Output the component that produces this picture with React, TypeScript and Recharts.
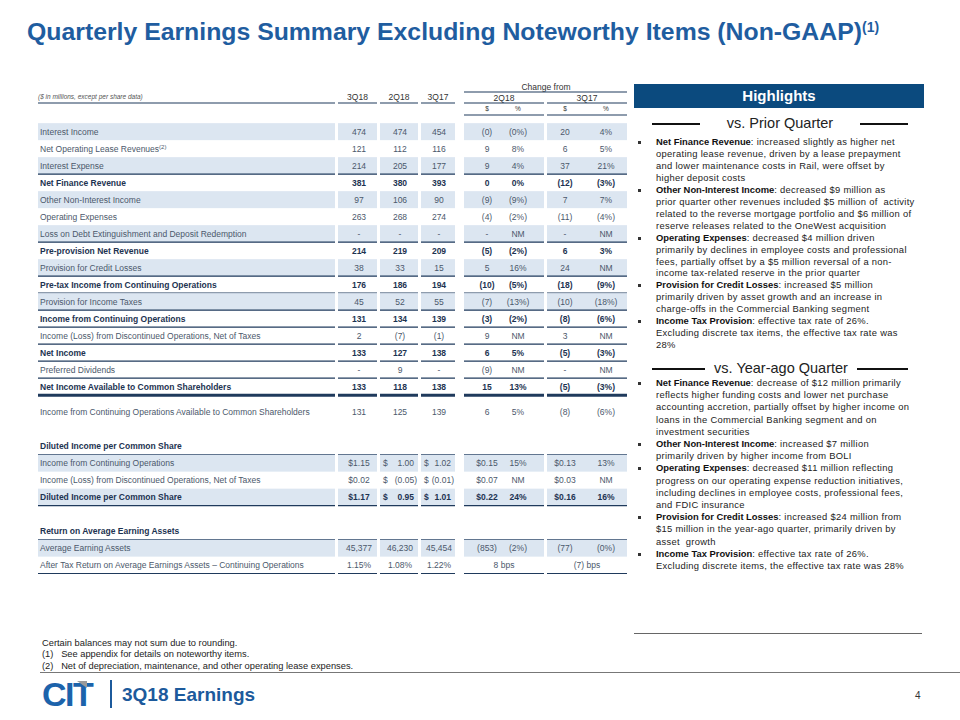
import { BarChart, Bar, XAxis, YAxis } from "recharts";

// ---- table data ($ in millions, except per share data) ----
const labels = [
  "Interest Income",
  "Net Operating Lease Revenues",
  "Interest Expense",
  "Net Finance Revenue",
  "Other Non-Interest Income",
  "Operating Expenses",
  "Loss on Debt Extinguishment and Deposit Redemption",
  "Pre-provision Net Revenue",
  "Provision for Credit Losses",
  "Pre-tax Income from Continuing Operations",
  "Provision for Income Taxes",
  "Income from Continuing Operations",
  "Income (Loss) from Discontinued Operations, Net of Taxes",
  "Net Income",
  "Preferred Dividends",
  "Net Income Available to Common Shareholders",
  "Income from Continuing Operations Available to Common Shareholders",
  "Diluted Income per Common Share",
  "Income from Continuing Operations",
  "Income (Loss) from Discontinued Operations, Net of Taxes",
  "Diluted Income per Common Share",
  "Return on Average Earning Assets",
  "Average Earning Assets",
  "After Tax Return on Average Earnings Assets \u2013 Continuing Operations",
];
const q3_18 = ["474", "121", "214", "381", "97", "263", "-", "214", "38", "176", "45", "131", "2", "133", "-", "133", "131", "", "$1.15", "$0.02", "$1.17", "", "45,377", "1.15%"];
const q2_18 = ["474", "112", "205", "380", "106", "268", "-", "219", "33", "186", "52", "134", "(7)", "127", "9", "118", "125", "", "$ 1.00", "$ (0.05)", "$ 0.95", "", "46,230", "1.08%"];
const q3_17 = ["454", "116", "177", "393", "90", "274", "-", "209", "15", "194", "55", "139", "(1)", "138", "-", "138", "139", "", "$ 1.02", "$ (0.01)", "$ 1.01", "", "45,454", "1.22%"];
const vsQtrAmt = ["(0)", "9", "9", "0", "(9)", "(4)", "-", "(5)", "5", "(10)", "(7)", "(3)", "9", "6", "(9)", "15", "6", "", "$0.15", "$0.07", "$0.22", "", "(853)", "8 bps"];
const vsQtrPct = ["(0%)", "8%", "4%", "0%", "(9%)", "(2%)", "NM", "(2%)", "16%", "(5%)", "(13%)", "(2%)", "NM", "5%", "NM", "13%", "5%", "", "15%", "NM", "24%", "", "(2%)", ""];
const vsYearAmt = ["20", "6", "37", "(12)", "7", "(11)", "-", "6", "24", "(18)", "(10)", "(8)", "3", "(5)", "-", "(5)", "(8)", "", "$0.13", "$0.03", "$0.16", "", "(77)", "(7) bps"];
const vsYearPct = ["4%", "5%", "21%", "(3%)", "7%", "(4%)", "NM", "3%", "NM", "(9%)", "(18%)", "(6%)", "NM", "(3%)", "NM", "(3%)", "(6%)", "", "13%", "NM", "16%", "", "(0%)", ""];
const labelNotes: Record<string, string> = { "Net Operating Lease Revenues": "(2)" };

// ---- highlights text ----
const vsPriorQuarter = [
  { head: "Net Finance Revenue", lines: ["increased slightly as higher net", "operating lease revenue, driven by a lease prepayment", "and lower maintenance costs in Rail, were offset by", "higher deposit costs"] },
  { head: "Other Non-Interest Income", lines: ["decreased $9 million as", "prior quarter other revenues included $5 million of  activity", "related to the reverse mortgage portfolio and $6 million of", "reserve releases related to the OneWest acquisition"] },
  { head: "Operating Expenses", lines: ["decreased $4 million driven", "primarily by declines in employee costs and professional", "fees, partially offset by a $5 million reversal of a non-", "income tax-related reserve in the prior quarter"] },
  { head: "Provision for Credit Losses", lines: ["increased $5 million", "primarily driven by asset growth and an increase in", "charge-offs in the Commercial Banking segment"] },
  { head: "Income Tax Provision", lines: ["effective tax rate of 26%.", "Excluding discrete tax items, the effective tax rate was", "28%"] },
];
const vsYearAgo = [
  { head: "Net Finance Revenue", lines: ["decrease of $12 million primarily", "reflects higher funding costs and lower net purchase", "accounting accretion, partially offset by higher income on", "loans in the Commercial Banking segment and on", "investment securities"] },
  { head: "Other Non-Interest Income", lines: ["increased $7 million", "primarily driven by higher income from BOLI"] },
  { head: "Operating Expenses", lines: ["decreased $11 million reflecting", "progress on our operating expense reduction initiatives,", "including declines in employee costs, professional fees,", "and FDIC insurance"] },
  { head: "Provision for Credit Losses", lines: ["increased $24 million from", "$15 million in the year-ago quarter, primarily driven by", "asset  growth"] },
  { head: "Income Tax Provision", lines: ["effective tax rate of 26%.", "Excluding discrete items, the effective tax rate was 28%"] },
];
const footnotes = [
  "Certain balances may not sum due to rounding.",
  "See appendix for details on noteworthy items.",
  "Net of depreciation, maintenance, and other operating lease expenses.",
];

// ---- row styling (parallel to labels) ----
type RowStyle = { shade?: boolean; bold?: boolean; rule?: number; tall?: boolean; gap?: number };
const rowStyles: RowStyle[] = [
  { shade: true },
  {},
  { shade: true, rule: 1 },
  { bold: true },
  { shade: true },
  {},
  { shade: true, rule: 1 },
  { bold: true },
  { shade: true, rule: 1 },
  { bold: true, rule: 1 },
  { shade: true, rule: 1 },
  { bold: true, rule: 1 },
  { rule: 1 },
  { bold: true, rule: 1 },
  { rule: 1 },
  { bold: true, rule: 3 },
  { tall: true },
  { bold: true, rule: 1, gap: 0.5 },
  { shade: true },
  {},
  { shade: true, bold: true, rule: 1 },
  { bold: true, rule: 1, gap: 1 },
  { shade: true },
  { rule: 1 },
];

const FONT = '"Liberation Sans", Arial, sans-serif';
const NAVY = "#1f3a5c";
const SHADE = "#dce6f1";
const ROW_H = 17;
const TABLE_LEFT = 30;
const TABLE_TOP = 123;
const TABLE_W = 600;
// column segments in page x
const SEGS: [number, number][] = [[38, 335], [338, 377], [380, 418], [421, 455], [464, 544], [547, 627]];
const VAL_X = [359, 400, 439, 487, 518, 565, 606];

function RowShape(props: any) {
  const { y, height, payload } = props;
  const st: RowStyle = payload.style;
  const cy = y + height / 2;
  const h = (st.tall ? 2 : 1) * ROW_H;
  const top = cy - h / 2;
  const lx = (px: number) => px - TABLE_LEFT;
  const weight = st.bold ? 700 : 400;
  const fill = st.bold ? "#1d3351" : "#4b586b";
  const base = cy + 3;
  const cells = [payload.a, payload.b, payload.c, payload.d, payload.e, payload.f, payload.g];
  const note = labelNotes[payload.label];

  const cellText = (v: string, i: number) => {
    if (!v) return null;
    if (i >= 1 && i <= 2 && v.startsWith("$ ")) {
      const seg = SEGS[i + 1];
      const num = v.slice(2);
      const paren = num.endsWith(")");
      return (
        <g key={i}>
          <text x={lx(seg[0] + 3)} y={base} fontSize={8.5} fill={fill} fontWeight={weight}>$</text>
          <text x={lx(seg[1] - (paren ? 1 : 4))} y={base} fontSize={8.5} fill={fill} fontWeight={weight} textAnchor="end">{num}</text>
        </g>
      );
    }
    let x = VAL_X[i];
    if ((i === 3 || i === 5) && v.includes("bps")) {
      const seg = SEGS[i === 3 ? 4 : 5];
      x = (seg[0] + seg[1]) / 2;
    }
    return (
      <text key={i} x={lx(x)} y={base} fontSize={8.5} fill={fill} fontWeight={weight} textAnchor="middle">{v}</text>
    );
  };

  return (
    <g fontFamily={FONT}>
      {st.shade && SEGS.map((s, i) => (
        <rect key={"s" + i} x={lx(s[0])} y={top} width={s[1] - s[0]} height={h} fill={SHADE} />
      ))}
      {st.rule && SEGS.map((s, i) => (
        <line key={"r" + i} x1={lx(s[0])} x2={lx(s[1])} y1={top + h} y2={top + h} stroke={NAVY} strokeWidth={st.rule === 3 ? 3 : 1.2} />
      ))}
      <text x={lx(40)} y={base} fontSize={8.5} fill={fill} fontWeight={weight}>
        {payload.label}
        {note && <tspan fontSize={6} dy={-3}>{note}</tspan>}
      </text>
      {cells.map(cellText)}
    </g>
  );
}

function TableHeader() {
  const rule = (x1: number, x2: number, y: number, k: string) => (
    <line key={k} x1={x1} x2={x2} y1={y} y2={y} stroke={NAVY} strokeWidth={1.2} />
  );
  return (
    <svg width={960} height={122} style={{ position: "absolute", left: 0, top: 0 }} fontFamily={FONT}>
      <text x={38} y={99} fontSize={6.5} fontStyle="italic" fill="#555">($ in millions, except per share data)</text>
      {SEGS.slice(0, 4).map((s, i) => rule(s[0], s[1], 103, "h" + i))}
      {["3Q18", "2Q18", "3Q17"].map((t, i) => (
        <text key={t + i} x={(SEGS[i + 1][0] + SEGS[i + 1][1]) / 2} y={100} fontSize={8.5} fill="#333" textAnchor="middle">{t}</text>
      ))}
      <text x={546} y={90} fontSize={8.5} fill="#333" textAnchor="middle">Change from</text>
      {rule(464, 627, 92, "cf")}
      <text x={504} y={101} fontSize={8.5} fill="#333" textAnchor="middle">2Q18</text>
      <text x={587} y={101} fontSize={8.5} fill="#333" textAnchor="middle">3Q17</text>
      {rule(464, 544, 103, "g1")}
      {rule(547, 627, 103, "g2")}
      {["$", "%", "$", "%"].map((t, i) => (
        <text key={"u" + i} x={VAL_X[i + 3]} y={111} fontSize={6.5} fill="#333" textAnchor="middle">{t}</text>
      ))}
      {rule(464, 544, 115, "u1")}
      {rule(547, 627, 115, "u2")}
    </svg>
  );
}

function Bullets({ items, top, lh }: { items: { head: string; lines: string[] }[]; top: number; lh: number }) {
  let n = 0;
  const out: any[] = [];
  items.forEach((it, k) => {
    it.lines.forEach((ln, j) => {
      const t = top + n * lh;
      out.push(
        <div key={k + "-" + j} style={{ position: "absolute", left: 656, top: t - 6, height: 12, lineHeight: "12px", fontSize: 9.4, color: "#222", whiteSpace: "pre", letterSpacing: 0.3 }}>
          {j === 0 ? <><b style={{ color: "#111", letterSpacing: 0 }}>{it.head}</b>: {ln}</> : ln}
        </div>
      );
      if (j === 0) out.push(<div key={"b" + k} style={{ position: "absolute", left: 638, top: t - 1, width: 3, height: 3, background: "#333" }} />);
      n++;
    });
  });
  return <>{out}</>;
}

function Divider({ text, y, l, r }: { text: string; y: number; l: [number, number]; r: [number, number] }) {
  return (
    <>
      <div style={{ position: "absolute", left: l[0], top: y, width: l[1] - l[0], height: 2, background: "#111" }} />
      <div style={{ position: "absolute", left: r[0], top: y, width: r[1] - r[0], height: 2, background: "#111" }} />
      <div style={{ position: "absolute", left: l[1], width: r[0] - l[1], top: y - 10, textAlign: "center", fontSize: 14.5, lineHeight: "20px", color: "#222" }}>{text}</div>
    </>
  );
}

export default function App() {
  let u = 0;
  const rows = labels.map((label, i) => {
    const st = rowStyles[i];
    u += st.gap || 0;
    const span = st.tall ? 2 : 1;
    const mid = u + span / 2;
    u += span;
    return { label, mid, band: 1, style: st, a: q3_18[i], b: q2_18[i], c: q3_17[i], d: vsQtrAmt[i], e: vsQtrPct[i], f: vsYearAmt[i], g: vsYearPct[i] };
  });
  const totalUnits = u;

  return (
    <div style={{ position: "absolute", left: 0, top: 0, width: 960, height: 720, background: "#fff", overflow: "hidden", fontFamily: FONT }}>
      <div style={{ position: "absolute", left: 27, top: 17, fontFamily: FONT, fontWeight: 700, fontSize: 24.8, color: "#1f5da0", whiteSpace: "nowrap", lineHeight: "30px" }}>
        Quarterly Earnings Summary Excluding Noteworthy Items (Non-GAAP)
        <sup style={{ fontSize: 14, verticalAlign: 0, position: "relative", top: -8 }}>(1)</sup>
      </div>

      <TableHeader />
      <div style={{ position: "absolute", left: TABLE_LEFT, top: TABLE_TOP }}>
        <BarChart width={TABLE_W} height={totalUnits * ROW_H} data={rows} layout="vertical" margin={{ top: 0, right: 0, bottom: 0, left: 0 }}>
          <XAxis type="number" domain={[0, 1]} hide />
          <YAxis type="number" dataKey="mid" domain={[0, totalUnits]} hide />
          <Bar dataKey="band" barSize={ROW_H} isAnimationActive={false} shape={(p: any) => <RowShape {...p} />} />
        </BarChart>
      </div>

      <div style={{ position: "absolute", left: 634, top: 84, width: 290, height: 24, background: "#0b4a7e", color: "#fff", fontWeight: 700, fontSize: 15, lineHeight: "24px", textAlign: "center" }}>Highlights</div>
      <Divider text="vs. Prior Quarter" y={123} l={[652, 700]} r={[860, 908]} />
      <Bullets items={vsPriorQuarter} top={142} lh={11.95} />
      <Divider text="vs. Year-ago Quarter" y={368} l={[652, 705]} r={[857, 908]} />
      <Bullets items={vsYearAgo} top={383} lh={12.2} />
      <div style={{ position: "absolute", left: 634, top: 633, width: 288, height: 1, background: "#666" }} />

      <div style={{ position: "absolute", left: 42, top: 638, fontSize: 9.3, color: "#222", lineHeight: "11.3px", whiteSpace: "pre" }}>
        <div>{footnotes[0]}</div>
        <div>(1)   {footnotes[1]}</div>
        <div>(2)   {footnotes[2]}</div>
      </div>
      <div style={{ position: "absolute", left: 40, top: 672, width: 920, height: 1, background: "#777" }} />

      <svg width={80} height={36} style={{ position: "absolute", left: 40, top: 676 }}>
        <text x={2} y={30} fontFamily={FONT} fontWeight={700} fontSize={34} fill="#1c63ab" letterSpacing={-1.5}>CIT</text>
        <polygon points="37,5 47,5 47,12" fill="#9a9a9a" />
      </svg>
      <div style={{ position: "absolute", left: 110, top: 680, width: 2, height: 28, background: "#1c5a9c" }} />
      <div style={{ position: "absolute", left: 122, top: 682, fontSize: 19, fontWeight: 700, color: "#1c5a9c", lineHeight: "26px" }}>3Q18 Earnings</div>
      <div style={{ position: "absolute", left: 915, top: 690, fontSize: 10, color: "#333" }}>4</div>
    </div>
  );
}
